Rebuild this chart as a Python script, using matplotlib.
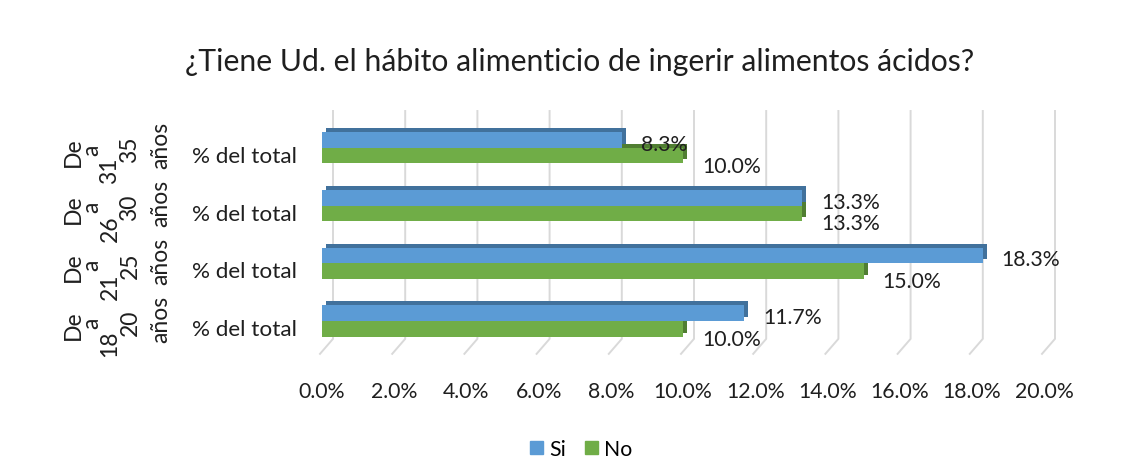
import matplotlib
matplotlib.use('Agg')
import matplotlib.pyplot as plt
import matplotlib.transforms as mtransforms
from matplotlib.patches import Patch

# Chart data
title = "¿Tiene Ud. el hábito alimenticio de ingerir alimentos ácidos?"
age_groups = ["De 18 a 20 años", "De 21 a 25 años", "De 26 a 30 años", "De 31 a 35 años"]
row_label = "% del total"
si_values = [11.7, 18.3, 13.3, 8.3]
no_values = [10.0, 15.0, 13.3, 10.0]
x_ticks = [0, 2, 4, 6, 8, 10, 12, 14, 16, 18, 20]
series_names = ["Si", "No"]

si_front, si_side = "#5B9BD5", "#41719C"
no_front, no_side = "#70AD47", "#507E32"
grid_color = "#D9D9D9"
text_color = "#1F1F1F"

plt.rcParams['font.family'] = ['Lato', 'DejaVu Sans']
fs = 15.3

W, H = 1134, 477
fig = plt.figure(figsize=(W / 100, H / 100), dpi=100)
ax = fig.add_axes([322 / W, 1 - 356 / H, 722 / W, 244 / H])
ax.set_xlim(0, 20)
ax.set_ylim(-0.59, 3.64)
px_x = 722 / 20.0  # pixels per x unit

ypos = list(range(len(age_groups)))
h = 0.27

shadow = mtransforms.offset_copy(ax.transData, fig=fig, x=4, y=4, units='dots')
back = mtransforms.offset_copy(ax.transData, fig=fig, x=11, y=0, units='dots')

# gridlines (back wall + floor slant)
for t in x_ticks:
    ax.plot([t, t, t - 13 / px_x], [3.64, -0.31, -0.57], color=grid_color,
            lw=1.4, transform=back, zorder=0, clip_on=False)

# 3D-ish bars: dark side first, then front face
no_y = [y - h / 2 for y in ypos]
si_y = [y + h / 2 for y in ypos]
for b in ax.barh(no_y, no_values, height=h, color=no_side, zorder=2):
    b.set_transform(shadow)
ax.barh(no_y, no_values, height=h, color=no_front, zorder=3)
for b in ax.barh(si_y, si_values, height=h, color=si_side, zorder=4):
    b.set_transform(shadow)
ax.barh(si_y, si_values, height=h, color=si_front, zorder=5)

# data labels
for yy, v in zip(si_y, si_values):
    ax.annotate(f"{v:.1f}%", xy=(v, yy), xytext=(19, -4), textcoords='offset pixels',
                ha='left', va='center', fontsize=fs, color=text_color, zorder=6)
for yy, v in zip(no_y, no_values):
    ax.annotate(f"{v:.1f}%", xy=(v, yy), xytext=(19, -10), textcoords='offset pixels',
                ha='left', va='center', fontsize=fs, color=text_color, zorder=6)

# category labels
slots = [(73, 3), (110, 22), (92, 1), (130, 1), (161, -3)]
for y, grp in zip(ypos, age_groups):
    ax.annotate(row_label, xy=(0, y), xycoords=('axes fraction', 'data'),
                xytext=(-25, -8), textcoords='offset pixels',
                ha='right', va='center', fontsize=16.2, color=text_color)
    for word, (xp, dy) in zip(grp.split(), slots):
        ax.annotate(word, xy=(0, y), xycoords=('axes fraction', 'data'),
                    xytext=(xp - 322, -dy), textcoords='offset pixels',
                    ha='center', va='center', rotation=90, fontsize=16.5, color=text_color)

ax.set_xticks(x_ticks)
ax.set_xticklabels([f"{t:.1f}%" for t in x_ticks], fontsize=fs, color=text_color)
ax.tick_params(axis='x', length=0, pad=19)
ax.set_yticks([])
for s in ax.spines.values():
    s.set_visible(False)
ax.patch.set_alpha(0)

fig.text(580 / W, 1 - 62 / H, title, ha='center', va='center', fontsize=21.7, color=text_color)

handles = [Patch(color=si_front), Patch(color=no_front)]
fig.legend(handles, series_names, loc='center', bbox_to_anchor=(581 / W, 1 - 450 / H),
           ncol=2, frameon=False, fontsize=fs, handlelength=0.6, handleheight=0.6,
           handletextpad=0.3, columnspacing=0.9)

fig.savefig("out.png", dpi=100)
